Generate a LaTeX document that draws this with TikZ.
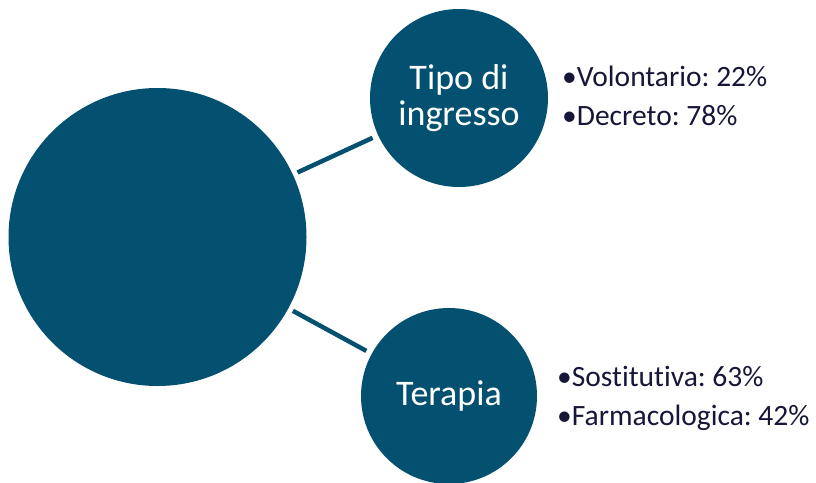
\documentclass[tikz,border=0pt]{standalone}
\usepackage{fontspec}
\setmainfont{Carlito}[Ligatures={NoCommon}]
\frenchspacing
\definecolor{navy}{RGB}{3,80,112}
\definecolor{ink}{RGB}{22,22,56}
\begin{document}
\begin{tikzpicture}[x=1pt,y=-1pt,
  hub/.style={circle, fill=navy, draw=none, inner sep=0pt, text=white,
    align=center, font=\fontsize{36}{36}\selectfont},
  link/.style={draw=navy, line width=4.5pt, shorten <=5pt, shorten >=6pt},
  facts/.style={text=ink, align=left, anchor=base west, inner sep=0pt,
    font=\fontsize{29.5}{39}\selectfont}]
  \useasboundingbox (0,0) rectangle (816,482);

  % central circle and the two branch circles
  \node[hub, minimum size=298pt] (core) at (157.5,237) {};
  \node[hub, minimum size=178pt] (entry) at (459,98) {Tipo di\\ingresso};
  \node[hub, minimum size=176pt] (therapy) at (449,396) {Terapia};

  % connectors
  \draw[link] (core) -- (entry);
  \draw[link] (core) -- (therapy);

  % bullet lists beside the branch circles (anchored on the last line)
  \node[facts] (entrylist) at (562,125) {•Volontario: 22\%\\•Decreto: 78\%};
  \node[facts] (therapylist) at (557,425) {•Sostitutiva: 63\%\\•Farmacologica: 42\%};
\end{tikzpicture}
\end{document}
